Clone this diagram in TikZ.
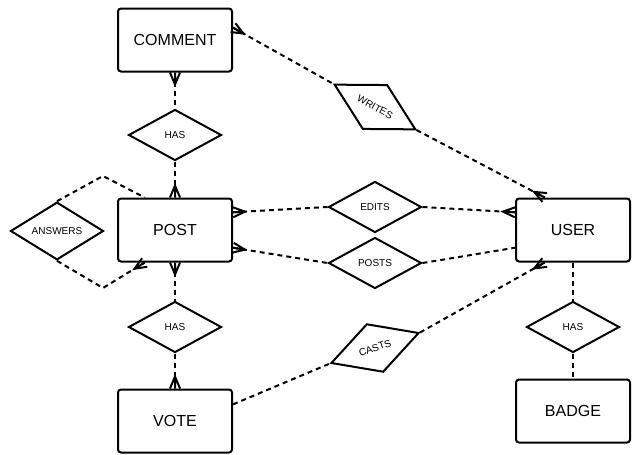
\documentclass[tikz,border=0pt]{standalone}
\usepackage{fontspec}
\setmainfont{Liberation Sans}
\usetikzlibrary{arrows.meta,shapes.geometric}

% crow's foot ("many") end
\pgfdeclarearrow{
  name = Crow,
  parameters = {\the\pgfarrowlength,\the\pgfarrowwidth},
  setup code = {
    \pgfarrowssettipend{0pt}
    \pgfarrowssetlineend{0pt}
    \pgfarrowssetbackend{-\pgfarrowlength}
    \pgfarrowshullpoint{0pt}{.5\pgfarrowwidth}
    \pgfarrowshullpoint{0pt}{-.5\pgfarrowwidth}
    \pgfarrowshullpoint{-\pgfarrowlength}{0pt}
    \pgfarrowssavethe\pgfarrowlength
    \pgfarrowssavethe\pgfarrowwidth
  },
  drawing code = {
    \pgfsetdash{}{0pt}
    \pgfpathmoveto{\pgfqpoint{0pt}{.5\pgfarrowwidth}}
    \pgfpathlineto{\pgfqpoint{-\pgfarrowlength}{0pt}}
    \pgfpathlineto{\pgfqpoint{0pt}{-.5\pgfarrowwidth}}
    \pgfpathmoveto{\pgfqpoint{-\pgfarrowlength}{0pt}}
    \pgfpathlineto{\pgfqpoint{0pt}{0pt}}
    \pgfusepathqstroke
  },
  defaults = {length=12pt, width=10pt}
}

\tikzset{
  entity/.style={draw, line width=2pt, rounded corners=3pt, minimum width=114pt,
    minimum height=63pt, font=\fontsize{16}{18}\selectfont},
  relation/.style={draw, diamond, line width=2pt, inner sep=0pt, minimum width=93pt,
    minimum height=51pt, font=\fontsize{10}{12}\selectfont},
  link/.style={line width=2pt, dash pattern=on 5pt off 4pt}
}

\begin{document}
\begin{tikzpicture}[x=1pt,y=-1pt]
\useasboundingbox (0,0) rectangle (635,455);

\node[entity] (comment) at (175,40) {COMMENT};
\node[entity] (post) at (175,230) {POST};
\node[entity] (vote) at (175,421) {VOTE};
\node[entity] (user) at (573,230) {USER};
\node[entity] (badge) at (573,411) {BADGE};

\node[relation] (hasc) at (175,135) {HAS};
\node[relation] (answers) at (57,231) {ANSWERS};
\node[relation] (hasv) at (175,327) {HAS};
\node[relation] (edits) at (375,207) {EDITS};
\node[relation] (posts) at (375,263) {POSTS};
\node[relation,rotate=-29] (writes) at (375,107) {WRITES};
\node[relation,rotate=19] (casts) at (375,348) {CASTS};
\node[relation] (hasb) at (573,327) {HAS};

\draw[link,Crow-] (comment) -- (hasc);
\draw[link,-Crow] (hasc) -- (post);
\draw[link,Crow-] (comment.12) -- (writes.west);
\draw[link,-Crow] (writes.east) -- (user.131);

\draw[link] (answers.north) -- (103,176) -- (post.133);
\draw[link,-Crow] (answers.south) -- (103,288) -- (post.227);

\draw[link,Crow-] (post.17) -- (edits.west);
\draw[link,-Crow] (edits.east) -- (user.163);
\draw[link,Crow-] (post.-17) -- (posts.west);
\draw[link] (posts.east) -- (user.-163);

\draw[link,Crow-] (post) -- (hasv);
\draw[link,-Crow] (hasv) -- (vote);
\draw[link] (vote.16) -- (casts.west);
\draw[link,-Crow] (casts.east) -- (user.229);

\draw[link] (user) -- (hasb);
\draw[link] (hasb) -- (badge);
\end{tikzpicture}
\end{document}
